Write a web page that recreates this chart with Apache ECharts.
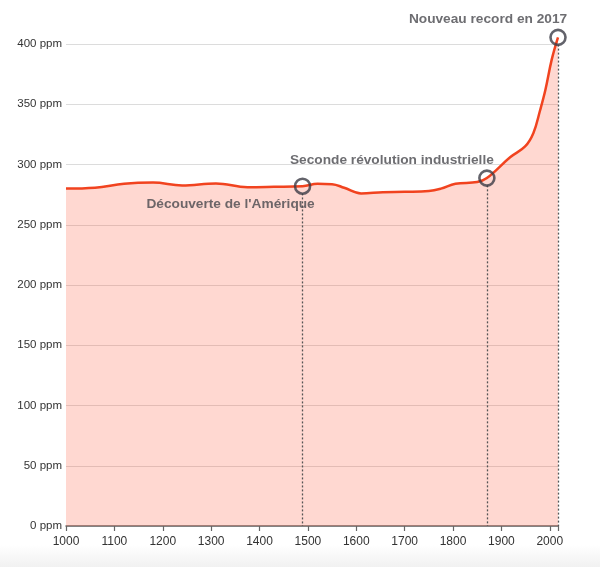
<!DOCTYPE html>
<html>
<head>
<meta charset="utf-8">
<script src="https://cdn.jsdelivr.net/npm/echarts@6/dist/echarts.min.js"></script>
<style>
  html, body { margin: 0; padding: 0; background: #fff; }
  #chart { width: 600px; height: 567px; }
</style>
</head>
<body>
<div id="chart"></div>
<script>
// CO2 concentration (ppm) by year
const years = [1000, 1060, 1120, 1180, 1240, 1310, 1375, 1430, 1489, 1520, 1550, 1575, 1610, 1655, 1700, 1750, 1775, 1805, 1850, 1870, 1918, 1949, 1966, 1980, 1991, 2004, 2017]
const ppm = [280, 280.7, 284, 285, 282.6, 284.3, 281.2, 281.5, 282, 284, 283.7, 280.7, 276, 277, 277.3, 278, 280, 284, 285.4, 288.7, 306, 315, 326, 345, 362, 387, 405.5]

// annotated events
const eventYears = [1489, 1870, 2017]
const eventPpm = [282, 288.7, 405.5]
const eventLabels = ["Découverte de l'Amérique", 'Seconde révolution industrielle', 'Nouveau record en 2017']

const chart = echarts.init(document.getElementById('chart'))

const labelPos = [
  { position: 'bottom', distance: 2, offset: [-72, 0] },
  { position: 'top', distance: 2, offset: [-95, 0] },
  { position: 'top', distance: 2, offset: [-70, 0] }
]

chart.setOption({
  animation: false,
  graphic: [{
    type: 'rect',
    z: -10,
    shape: { x: 0, y: 545, width: 600, height: 22 },
    style: {
      fill: new echarts.graphic.LinearGradient(0, 0, 0, 1, [
        { offset: 0, color: '#ffffff' },
        { offset: 1, color: '#f1f1f1' }
      ])
    }
  }],
  grid: { left: 66, right: 42, top: 44, bottom: 41 },
  xAxis: {
    type: 'value',
    min: 1000,
    max: 2017,
    interval: 100,
    axisLine: { lineStyle: { color: '#666', width: 1.5 } },
    axisTick: { show: true, length: 5, lineStyle: { color: '#666', width: 1.2 } },
    axisLabel: {
      color: '#333',
      fontSize: 12,
      fontFamily: 'Liberation Sans',
      margin: 10,
      formatter: v => (v % 100 === 0 ? String(v) : '')
    },
    splitLine: { show: false }
  },
  yAxis: {
    type: 'value',
    min: 0,
    max: 400,
    interval: 50,
    axisLine: { show: false },
    axisTick: { show: false },
    axisLabel: {
      color: '#333',
      fontSize: 11.5,
      fontFamily: 'Liberation Sans',
      margin: 4,
      formatter: v => v + ' ppm'
    },
    splitLine: { lineStyle: { color: '#dcdcdc', width: 1 } }
  },
  series: [
    {
      type: 'line',
      data: years.map((y, i) => [y, ppm[i]]),
      smooth: 0.4,
      clip: false,
      symbol: 'none',
      lineStyle: { color: '#f1431f', width: 2.5 },
      areaStyle: { color: '#ff4d2e', opacity: 0.22 }
    },
    {
      type: 'scatter',
      clip: false,
      z: 5,
      symbol: 'circle',
      symbolSize: 15,
      itemStyle: { color: 'rgba(0,0,0,0)', borderColor: '#3c3c46', borderWidth: 2.6 },
      data: eventYears.map((y, i) => ({
        value: [y, eventPpm[i]],
        label: Object.assign({
          show: true,
          formatter: eventLabels[i],
          color: '#48484e',
          fontSize: 13.7,
          fontWeight: 'bold',
          fontFamily: 'Liberation Sans'
        }, labelPos[i])
      })),
      markLine: {
        silent: true,
        symbol: 'none',
        label: { show: false },
        lineStyle: { color: '#555', type: [2, 2], width: 1.3 },
        data: eventYears.map((y, i) => [
          { coord: [y, eventPpm[i] - 6] },
          { coord: [y, 0] }
        ])
      }
    }
  ]
})
</script>
</body>
</html>
